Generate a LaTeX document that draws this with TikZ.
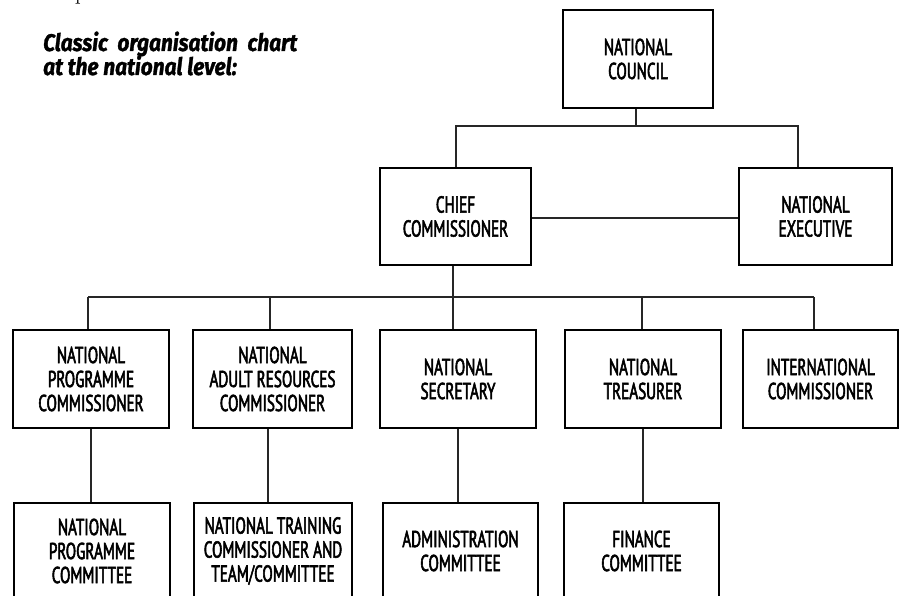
\documentclass[tikz,border=0pt]{standalone}
\usepackage{fontspec}
\newfontfamily\boxfont[FakeStretch=0.66,FakeBold=2.4]{PT Sans}
\newfontfamily\titlefont[FakeStretch=0.87,FakeBold=1.2]{Fira Sans}
\begin{document}
\begin{tikzpicture}[x=1pt,y=-1pt,
  orgbox/.style={draw=black, line width=2.7pt, inner sep=0pt, align=center,
    font=\boxfont\fontsize{23}{24}\selectfont},
  conn/.style={draw=black!85, line width=1.2pt},
  ttl/.style={anchor=base west, inner sep=0pt,
    font=\titlefont\bfseries\itshape\fontsize{24}{24}\selectfont}]
\useasboundingbox (0,0) rectangle (904,596);
\clip (0,0) rectangle (904,596);
\fill[white] (0,0) rectangle (904,596);

% cut-off text fragment at top
\node[anchor=base, inner sep=0pt, font=\fontsize{24}{24}\selectfont] (pfrag) at (81,-0.5) {p};

% title
\node[ttl] (title1) at (43,51) {\makebox[254pt][s]{Classic organisation chart}};
\node[ttl] (title2) at (43,75) {at the national level:};

% boxes
\node[orgbox, minimum width=150pt, minimum height=98pt] (nc) at (638,59) {NATIONAL\\COUNCIL};
\node[orgbox, minimum width=151pt, minimum height=97pt] (cc) at (455.5,216.5) {CHIEF\\COMMISSIONER};
\node[orgbox, minimum width=153pt, minimum height=97pt] (ne) at (815.5,216.5) {NATIONAL\\EXECUTIVE};

\node[orgbox, minimum width=156pt, minimum height=98pt] (b1) at (91,379) {NATIONAL\\PROGRAMME\\COMMISSIONER};
\node[orgbox, minimum width=159pt, minimum height=98pt] (b2) at (272.5,379) {NATIONAL\\ADULT RESOURCES\\COMMISSIONER};
\node[orgbox, minimum width=156pt, minimum height=98pt] (b3) at (458,379) {NATIONAL\\SECRETARY};
\node[orgbox, minimum width=156pt, minimum height=98pt] (b4) at (643,379) {NATIONAL\\TREASURER};
\node[orgbox, minimum width=155pt, minimum height=98pt] (b5) at (820.5,379) {INTERNATIONAL\\COMMISSIONER};

\node[orgbox, minimum width=156pt, minimum height=96pt] (c1) at (92,551) {NATIONAL\\PROGRAMME\\COMMITTEE};
\node[orgbox, minimum width=158pt, minimum height=96pt] (c2) at (273,551) {NATIONAL TRAINING\\COMMISSIONER AND\\TEAM/COMMITTEE};
\node[orgbox, minimum width=155pt, minimum height=96pt] (c3) at (460.5,551) {ADMINISTRATION\\COMMITTEE};
\node[orgbox, minimum width=155pt, minimum height=96pt] (c4) at (641.5,551) {FINANCE\\COMMITTEE};

% connector coordinates
\coordinate (t1) at (636,126);
\coordinate (d1) at (456,126);
\coordinate (d2) at (798,126);
\coordinate (h1) at (0,218);
\coordinate (t2) at (453,297);
\coordinate (k1) at (88,297);
\coordinate (k2) at (270,297);
\coordinate (k4) at (642,297);
\coordinate (k5) at (814,297);
\coordinate (v2) at (268,0);

% council level
\draw[conn] (nc.south -| t1) -- (t1);
\draw[conn] (cc.north -| d1) -- (d1) -- (d2) -- (ne.north -| d2);
\draw[conn] (cc.east |- h1) -- (ne.west |- h1);

% chief commissioner to row 2
\draw[conn] (cc.south -| t2) -- (t2);
\draw[conn] (k1) -- (k5);
\draw[conn] (k1) -- (b1.north -| k1);
\draw[conn] (k2) -- (b2.north -| k2);
\draw[conn] (t2) -- (b3.north -| t2);
\draw[conn] (k4) -- (b4.north -| k4);
\draw[conn] (k5) -- (b5.north -| k5);

% row 2 to row 3
\draw[conn] (b1.south) -- (c1.north -| b1.south);
\draw[conn] (b2.south -| v2) -- (c2.north -| v2);
\draw[conn] (b3.south) -- (c3.north -| b3.south);
\draw[conn] (b4.south) -- (c4.north -| b4.south);
\end{tikzpicture}
\end{document}
